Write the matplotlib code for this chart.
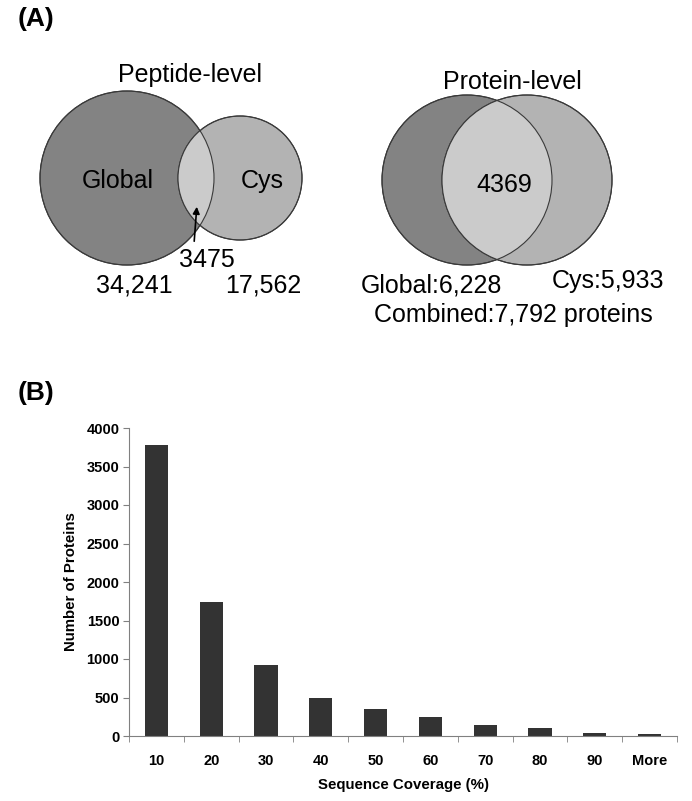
import matplotlib.pyplot as plt
from matplotlib.patches import Circle

plt.rcParams['font.family'] = ['Liberation Sans', 'DejaVu Sans']

# data
coverage_bins = ['10', '20', '30', '40', '50', '60', '70', '80', '90', 'More']
protein_counts = [3780, 1740, 920, 490, 350, 250, 140, 100, 45, 30]

peptide_global = 34241
peptide_cys = 17562
peptide_overlap = 3475

protein_global = 6228
protein_cys = 5933
protein_overlap = 4369
protein_combined = 7792

dark = '#838383'
mid = '#b3b3b3'
light = '#cbcbcb'
edge = '#3a3a3a'

fig = plt.figure(figsize=(6.92, 8.01), dpi=100)

# panel A drawn in pixel coords
ax0 = fig.add_axes([0, 0, 1, 1])
ax0.set_xlim(0, 692)
ax0.set_ylim(801, 0)
ax0.axis('off')


def venn(ax, c1, r1, c2, r2):
    g = Circle(c1, r1, facecolor=dark, edgecolor=edge, lw=0.8, zorder=1)
    c = Circle(c2, r2, facecolor=mid, edgecolor=edge, lw=0.8, zorder=2)
    ax.add_patch(g)
    ax.add_patch(c)
    lens = Circle(c2, r2, facecolor=light, edgecolor='none', zorder=3)
    ax.add_patch(lens)
    lens.set_clip_path(g)
    # outlines on top
    ax.add_patch(Circle(c1, r1, fill=False, edgecolor=edge, lw=0.8, zorder=4))
    ax.add_patch(Circle(c2, r2, fill=False, edgecolor=edge, lw=0.8, zorder=4))


venn(ax0, (127, 178), 87, (240, 178), 62)
venn(ax0, (467, 180), 85, (527, 180), 85)

fs = 18
ax0.text(18, 19, '(A)', fontsize=19, fontweight='bold', ha='left', va='center')
ax0.text(18, 393, '(B)', fontsize=19, fontweight='bold', ha='left', va='center')

ax0.text(190, 75, 'Peptide-level', fontsize=fs, ha='center', va='center')
ax0.text(118, 181, 'Global', fontsize=fs, ha='center', va='center', zorder=5)
ax0.text(262, 181, 'Cys', fontsize=fs, ha='center', va='center', zorder=5)
ax0.annotate('', xy=(197, 204), xytext=(194, 244),
             arrowprops=dict(arrowstyle='-|>', color='black', lw=1.2,
                             mutation_scale=10), zorder=6)
ax0.text(207, 260, f'{peptide_overlap}', fontsize=fs, ha='center', va='center')
ax0.text(134, 285, f'{peptide_global:,}', fontsize=fs, ha='center', va='center')
ax0.text(263, 285, f'{peptide_cys:,}', fontsize=fs, ha='center', va='center')

ax0.text(512, 82, 'Protein-level', fontsize=fs, ha='center', va='center')
ax0.text(504, 185, f'{protein_overlap}', fontsize=fs, ha='center', va='center', zorder=5)
ax0.text(431, 286, f'Global:{protein_global:,}', fontsize=fs, ha='center', va='center')
ax0.text(608, 281, f'Cys:{protein_cys:,}', fontsize=fs, ha='center', va='center')
ax0.text(513, 315, f'Combined:{protein_combined:,} proteins', fontsize=fs,
         ha='center', va='center')

# panel B bar chart
ax = fig.add_axes([129 / 692, 65 / 801, 548 / 692, 308 / 801])
x = range(len(coverage_bins))
ax.bar(x, protein_counts, width=0.42, color='#333333')
ax.set_xlim(-0.5, len(coverage_bins) - 0.5)
ax.set_ylim(0, 4000)
ax.set_yticks(range(0, 4001, 500))
ax.set_xticks(list(x))
ax.set_xticklabels(coverage_bins)
ax.set_xticks([i - 0.5 for i in range(len(coverage_bins) + 1)], minor=True)
ax.tick_params(axis='x', which='major', length=0, pad=13)
ax.tick_params(axis='x', which='minor', length=4, color='#808080', direction='out')
ax.tick_params(axis='y', length=4, color='#808080', direction='out', pad=3)
for lab in ax.get_xticklabels() + ax.get_yticklabels():
    lab.set_fontweight('bold')
    lab.set_fontsize(10.5)
for s in ['top', 'right']:
    ax.spines[s].set_visible(False)
for s in ['left', 'bottom']:
    ax.spines[s].set_color('#808080')
    ax.spines[s].set_linewidth(0.8)
ax.set_xlabel('Sequence Coverage (%)', fontsize=10.8, fontweight='bold', labelpad=7)
ax.set_ylabel('Number of Proteins', fontsize=10.8, fontweight='bold', labelpad=6)

fig.savefig('out.png', dpi=100)
